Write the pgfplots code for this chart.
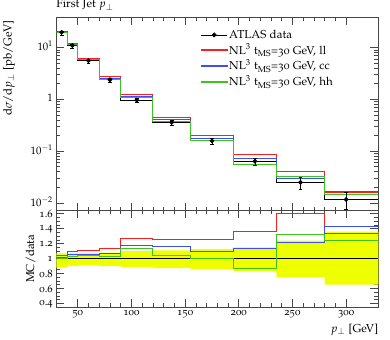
\documentclass[border=0pt]{standalone}
\usepackage[T1]{fontenc}
\usepackage[osf]{mathpazo}
\usepackage{pgfplots}
\pgfplotsset{compat=1.18}

\definecolor{llred}{RGB}{255,30,30}
\definecolor{ccblue}{RGB}{60,80,240}
\definecolor{hhgreen}{RGB}{60,195,30}
\definecolor{banda}{RGB}{238,255,0}
\definecolor{axisgrey}{RGB}{70,70,70}

\begin{document}
\begin{tikzpicture}[font=\fontsize{11.8}{14}\selectfont]
\pgfplotsset{
  rivet/.style={
    scale only axis, width=330pt,
    xmin=30, xmax=330,
    axis line style={axisgrey, line width=0.7pt},
    tick style={axisgrey, line width=0.6pt},
    tick align=inside,
    major tick length=8pt, minor tick length=4pt,
    xtick={50,100,...,300},
    minor x tick num=4,
    tick label style={font=\fontsize{11}{13}\selectfont},
  },
}
\begin{axis}[rivet, name=main,
    height=198pt,
    ymode=log, ymin=0.00717, ymax=38.6,
    ytick={0.01,0.1,1,10},
    yticklabels={$10^{-2}$,$10^{-1}$,$1$,$10^{1}$},
    yticklabel style={yshift=1.5pt},
    xticklabels={},
    ylabel={d$\sigma$/d$p_\perp$ [pb/GeV]},
    ylabel style={at={(axis description cs:-0.118,1)}, anchor=south east},
    legend style={at={(0.44,0.955)}, anchor=north west, draw=none, fill=none,
      row sep=0.3pt, font=\fontsize{11.8}{14}\selectfont},
    legend cell align=left,
  ]
\addlegendimage{black, line width=0.8pt, mark=*, mark size=2pt,
  legend image code/.code={
    \draw[black, line width=0.8pt] (0pt,0pt) -- (26pt,0pt);
    \fill[black] (13pt,0pt) circle (2pt);}}
\addlegendentry{ATLAS data}
\addlegendimage{legend image code/.code={
    \fill[llred] (0pt,-0.6pt) rectangle (26pt,0.6pt);}}
\addlegendentry{NL$^3$ t$_{\mathrm{MS}}$=30 GeV, ll}
\addlegendimage{legend image code/.code={
    \fill[ccblue] (0pt,-0.6pt) rectangle (26pt,0.6pt);}}
\addlegendentry{NL$^3$ t$_{\mathrm{MS}}$=30 GeV, cc}
\addlegendimage{legend image code/.code={
    \fill[hhgreen] (0pt,-0.6pt) rectangle (26pt,0.6pt);}}
\addlegendentry{NL$^3$ t$_{\mathrm{MS}}$=30 GeV, hh}

% data histogram line
\addplot[const plot, black, line width=1pt, forget plot] coordinates {
 (30,19.7) (40,11.0) (50,5.6) (70,2.4) (90,0.97) (120,0.36)
 (155,0.158) (195,0.064) (235,0.025) (280,0.0117) (330,0.0117)};
% NL3 ll
\addplot[const plot, llred, line width=1pt, forget plot] coordinates {
 (30,20.5) (40,12.0) (50,6.22) (70,2.71) (90,1.23) (120,0.45)
 (155,0.198) (195,0.087) (235,0.040) (280,0.0156) (330,0.0156)};
% NL3 cc
\addplot[const plot, ccblue, line width=1pt, forget plot] coordinates {
 (30,20.1) (40,11.66) (50,5.94) (70,2.57) (90,1.135) (120,0.418)
 (155,0.172) (195,0.073) (235,0.030) (280,0.0167) (330,0.0167)};
% NL3 hh
\addplot[const plot, hhgreen, line width=1pt, forget plot] coordinates {
 (30,19.7) (40,11.3) (50,5.82) (70,2.47) (90,1.10) (120,0.374)
 (155,0.158) (195,0.0557) (235,0.033) (280,0.0145) (330,0.0145)};
% data points
\addplot[black, only marks, mark=*, mark size=2pt, line width=0.8pt, forget plot,
  error bars/.cd, y dir=both, y explicit] coordinates {
 (35,19.7) += (0,1.38) -= (0,2.36)
 (45,11.0) += (0,0.77) -= (0,1.1)
 (60,5.6) += (0,0.39) -= (0,0.5)
 (80,2.4) += (0,0.19) -= (0,0.24)
 (105,0.97) += (0,0.097) -= (0,0.107)
 (137.5,0.36) += (0,0.04) -= (0,0.047)
 (175,0.158) += (0,0.020) -= (0,0.022)
 (215,0.064) += (0,0.0096) -= (0,0.0109)
 (257.5,0.025) += (0,0.006) -= (0,0.00625)
 (300,0.0117) += (0,0.0042) -= (0,0.0041)};
\end{axis}
\node[anchor=south west, inner sep=0pt] at ([yshift=6pt]main.north west) {First Jet $p_\perp$};

\begin{axis}[rivet, name=ratio,
    at={(main.south west)}, anchor=north west,
    height=99pt,
    ymin=0.35, ymax=1.645,
    ytick={0.4,0.6,...,1.6},
    minor y tick num=3,
    yticklabels={0.4,0.6,0.8,1,1.2,1.4,1.6},
    yticklabel style={yshift=-0.5pt},
    xticklabels={50,100,150,200,250,300},
    /pgf/number format/assume math mode=true,
    ylabel={MC/data},
    ylabel style={yshift=-3pt},
  ]
\addplot[fill=banda, draw=none] coordinates {
 (30,1.07) (40,1.07) (40,1.07) (50,1.07) (50,1.07) (70,1.07) (70,1.08) (90,1.08)
 (90,1.10) (120,1.10) (120,1.11) (155,1.11) (155,1.125) (195,1.125)
 (195,1.15) (235,1.15) (235,1.24) (280,1.24) (280,1.36) (330,1.36)
 (330,0.65) (280,0.65) (280,0.75) (235,0.75) (235,0.83) (195,0.83)
 (195,0.86) (155,0.86) (155,0.87) (120,0.87) (120,0.89) (90,0.89)
 (90,0.90) (70,0.90) (70,0.91) (50,0.91) (50,0.90) (40,0.90) (40,0.88) (30,0.88)} -- cycle;
\addplot[const plot, black, line width=0.7pt] coordinates {(30,1) (330,1)};
\addplot[const plot, llred, line width=1pt] coordinates {
 (30,1.04) (40,1.09) (50,1.11) (70,1.13) (90,1.27) (120,1.25)
 (155,1.25) (195,1.36) (235,1.61) (280,1.33) (330,1.33)};
\addplot[const plot, ccblue, line width=1pt] coordinates {
 (30,1.02) (40,1.06) (50,1.06) (70,1.07) (90,1.17) (120,1.16)
 (155,1.09) (195,1.14) (235,1.21) (280,1.43) (330,1.43)};
\addplot[const plot, hhgreen, line width=1pt] coordinates {
 (30,1.0) (40,1.03) (50,1.04) (70,1.03) (90,1.13) (120,1.04)
 (155,1.0) (195,0.87) (235,1.32) (280,1.24) (330,1.24)};
\end{axis}
\node[anchor=north east, inner sep=0pt] at ([yshift=-17pt]ratio.south east) {$p_\perp$ [GeV]};
\path ([xshift=12pt]ratio.south east) -- ++(0,-33pt);
\end{tikzpicture}
\end{document}
